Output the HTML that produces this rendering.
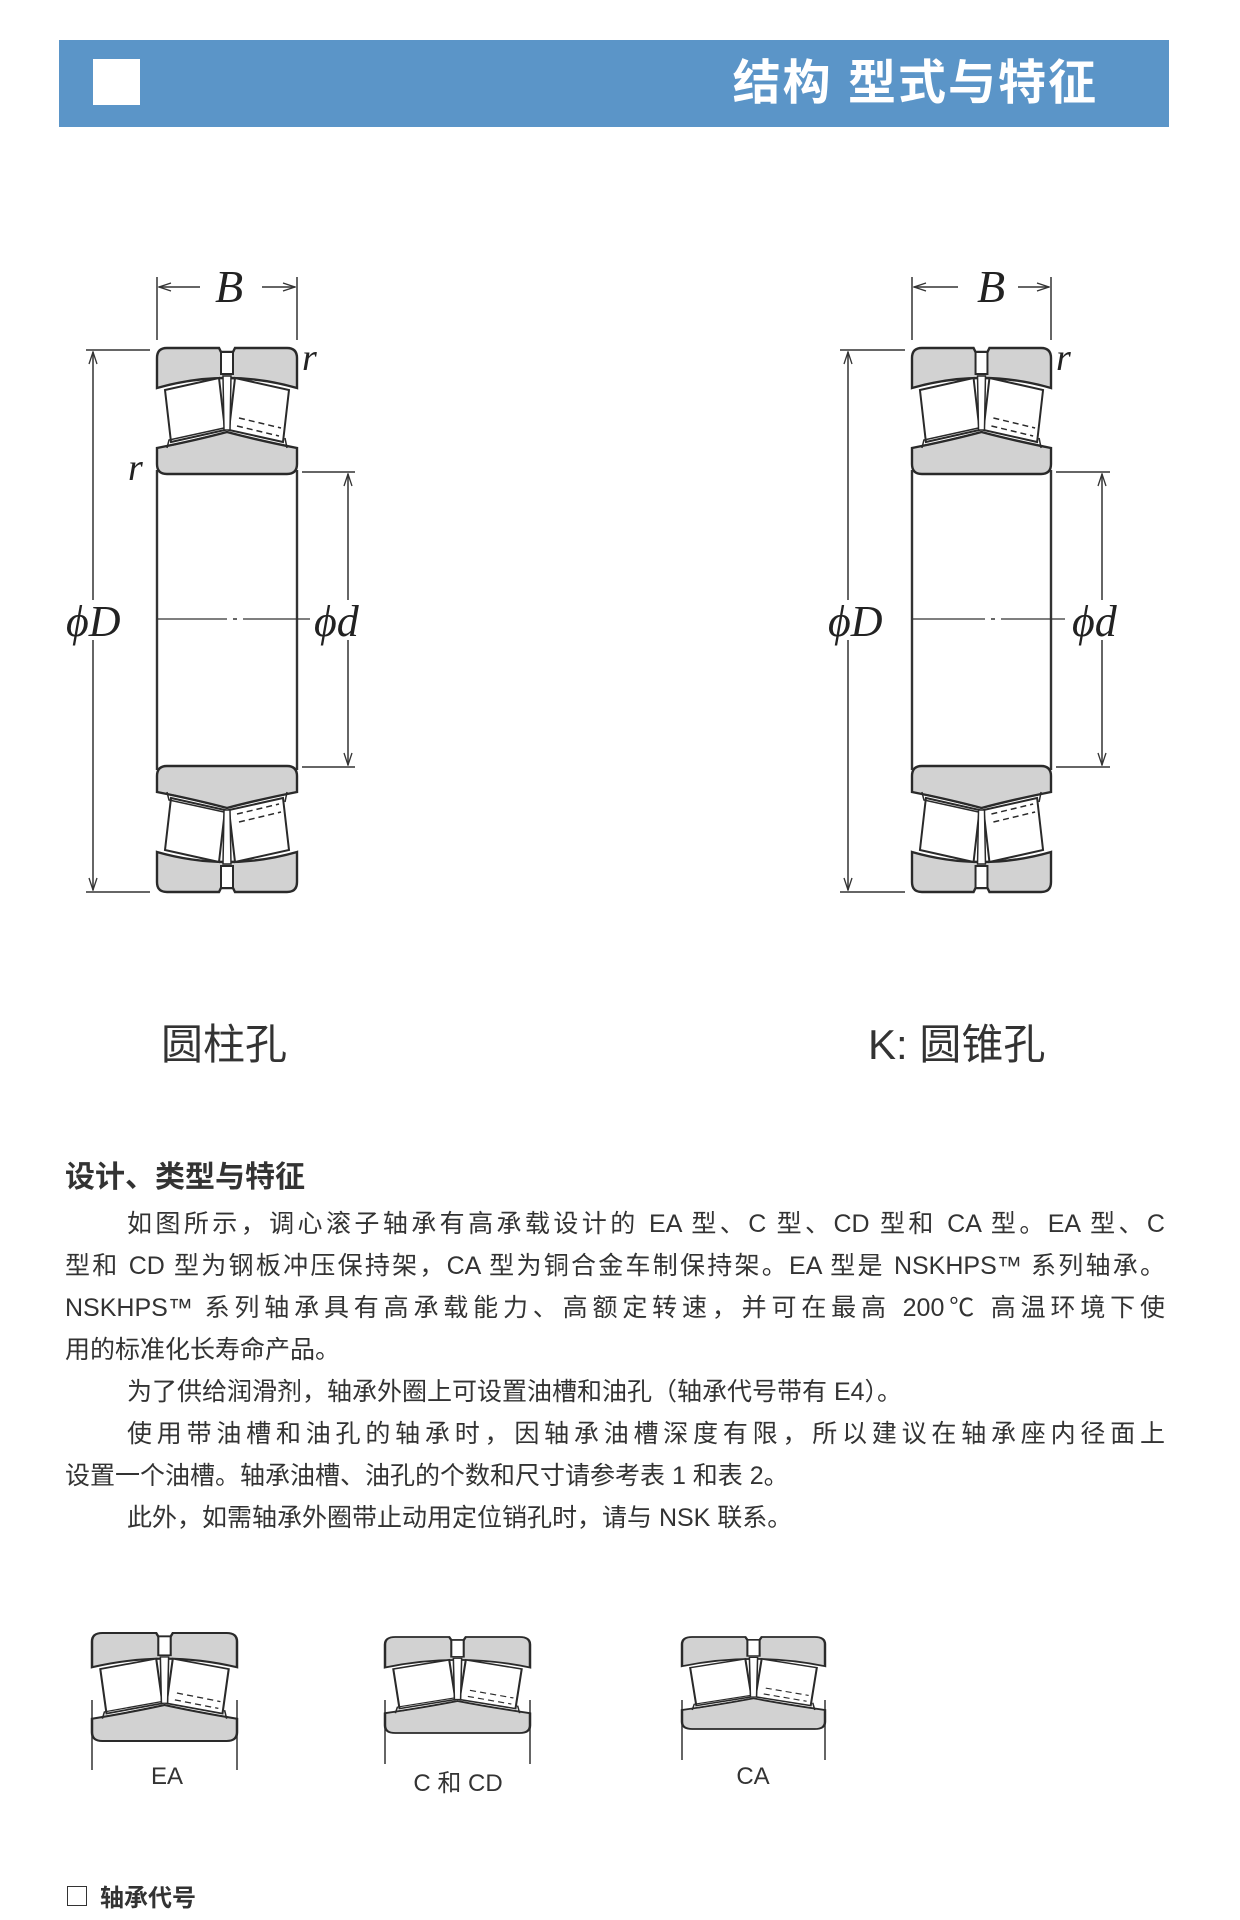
<!DOCTYPE html>
<html><head><meta charset="utf-8"><style>
body{margin:0;width:1240px;height:1920px;background:#fff;position:relative;overflow:hidden;font-family:"Liberation Sans","Noto Sans CJK SC",sans-serif;color:#333}
.hdr{position:absolute;left:59px;top:40px;width:1110px;height:87px;background:#5b95c8}
.sq{position:absolute;left:34px;top:19px;width:47px;height:46px;background:#fff}
.ttl{position:absolute;right:71px;top:16px;font-size:48px;font-weight:bold;color:#fff;letter-spacing:2px;line-height:56px}
.cap{position:absolute;font-size:42px;color:#333;line-height:50px}
.h2{position:absolute;left:65px;top:1152px;font-size:30px;font-weight:bold;color:#333}
.p{position:absolute;left:65px;width:1100px;font-size:25px;line-height:30px;color:#333;white-space:nowrap}
.j{text-align:justify;text-align-last:justify;white-space:normal}
.lab{position:absolute;font-size:24px;color:#333;transform:translateX(-50%)}
svg{position:absolute;left:0;top:0}
</style></head><body>
<div class="hdr"><div class="sq"></div><div class="ttl">结构 型式与特征</div></div>
<svg width="1240" height="1920" viewBox="0 0 1240 1920">
<defs>
<symbol id="half" viewBox="0 0 140 126" overflow="visible" preserveAspectRatio="none">
<path d="M0,10 Q0,0 10,0 L62,0 L64,4 L76,4 L78,0 L130,0 Q140,0 140,10 L140,40 Q70,20 0,40 Z" fill="#d2d2d2" stroke="#2a2a2a" stroke-width="2.4"/>
<rect x="64" y="4" width="12" height="22" fill="#fff" stroke="#2a2a2a" stroke-width="2"/>
<path d="M0,100 Q40,92 70,84 Q100,92 140,100 L140,116 Q140,126 130,126 L10,126 Q0,126 0,116 Z" fill="#d2d2d2" stroke="#2a2a2a" stroke-width="2.4"/>
<path d="M8,42 L62,30 L68,82 L14,94 Z" fill="#fff" stroke="#2a2a2a" stroke-width="2"/>
<path d="M78,30 L132,42 L126,94 L72,82 Z" fill="#fff" stroke="#2a2a2a" stroke-width="2"/>
<path d="M66,28 L74,28 L73,82 L67,82 Z" fill="#fff" stroke="#2a2a2a" stroke-width="1.5"/>
<path d="M67,80 L12,92 L10,100 M70,84 L16,97" fill="none" stroke="#2a2a2a" stroke-width="1.5"/>
<path d="M82,70 L124,80 M80,78 L122,88" fill="none" stroke="#2a2a2a" stroke-width="1.5" stroke-dasharray="6,4"/>
<path d="M128,90 L130,100" stroke="#2a2a2a" stroke-width="1.5"/>
</symbol>
<marker id="ar" viewBox="0 0 12 10" refX="12" refY="5" markerWidth="14" markerHeight="10" orient="auto" markerUnits="userSpaceOnUse"><path d="M0,1 L12,5 L0,9" fill="none" stroke="#333" stroke-width="1.3"/></marker>
</defs>
<g stroke="#333" stroke-width="1.5" fill="none">
<line x1="157" y1="470" x2="157" y2="770" stroke-width="2.4"/>
<line x1="297" y1="470" x2="297" y2="770" stroke-width="2.4"/>
<line x1="157" y1="277" x2="157" y2="340"/><line x1="297" y1="277" x2="297" y2="340"/>
<line x1="200" y1="287" x2="159" y2="287" marker-end="url(#ar)"/><line x1="262" y1="287" x2="295" y2="287" marker-end="url(#ar)"/>
<line x1="86" y1="350" x2="150" y2="350"/><line x1="86" y1="892" x2="150" y2="892"/>
<line x1="93" y1="600" x2="93" y2="352" marker-end="url(#ar)"/><line x1="93" y1="640" x2="93" y2="890" marker-end="url(#ar)"/>
<line x1="302" y1="472" x2="355" y2="472"/><line x1="302" y1="767" x2="355" y2="767"/>
<line x1="348" y1="600" x2="348" y2="474" marker-end="url(#ar)"/><line x1="348" y1="640" x2="348" y2="765" marker-end="url(#ar)"/>
<line x1="158" y1="619" x2="227" y2="619" stroke-width="1.2"/><line x1="233" y1="619" x2="237" y2="619"/><line x1="243" y1="619" x2="310" y2="619" stroke-width="1.2"/>
<line x1="912" y1="470" x2="912" y2="770" stroke-width="2.4"/>
<line x1="1051" y1="470" x2="1051" y2="770" stroke-width="2.4"/>
<line x1="912" y1="277" x2="912" y2="340"/><line x1="1051" y1="277" x2="1051" y2="340"/>
<line x1="958" y1="287" x2="914" y2="287" marker-end="url(#ar)"/><line x1="1018" y1="287" x2="1049" y2="287" marker-end="url(#ar)"/>
<line x1="840" y1="350" x2="905" y2="350"/><line x1="840" y1="892" x2="905" y2="892"/>
<line x1="848" y1="600" x2="848" y2="352" marker-end="url(#ar)"/><line x1="848" y1="640" x2="848" y2="890" marker-end="url(#ar)"/>
<line x1="1056" y1="472" x2="1110" y2="472"/><line x1="1056" y1="767" x2="1110" y2="767"/>
<line x1="1102" y1="600" x2="1102" y2="474" marker-end="url(#ar)"/><line x1="1102" y1="640" x2="1102" y2="765" marker-end="url(#ar)"/>
<line x1="913" y1="619" x2="985" y2="619" stroke-width="1.2"/><line x1="991" y1="619" x2="995" y2="619"/><line x1="1001" y1="619" x2="1065" y2="619" stroke-width="1.2"/>
<line x1="92" y1="1700" x2="92" y2="1770"/><line x1="237" y1="1700" x2="237" y2="1770"/>
<line x1="385" y1="1700" x2="385" y2="1764"/><line x1="530" y1="1700" x2="530" y2="1764"/>
<line x1="682" y1="1700" x2="682" y2="1760"/><line x1="825" y1="1700" x2="825" y2="1760"/>
</g>
<use href="#half" x="157" y="348" width="140" height="126"/>
<g transform="translate(0,1240) scale(1,-1)"><use href="#half" x="157" y="348" width="140" height="126"/></g>
<use href="#half" x="912" y="348" width="139" height="126"/>
<g transform="translate(0,1240) scale(1,-1)"><use href="#half" x="912" y="348" width="139" height="126"/></g>
<use href="#half" x="92" y="1633" width="145" height="108"/>
<use href="#half" x="385" y="1637" width="145" height="96"/>
<use href="#half" x="682" y="1637" width="143" height="92"/>
<g font-family="Liberation Serif,serif" font-style="italic" fill="#222">
<text x="215" y="302" font-size="46">B</text>
<text x="302" y="370" font-size="38">r</text>
<text x="128" y="480" font-size="38">r</text>
<text x="66" y="636" font-size="44">ϕD</text>
<text x="314" y="636" font-size="44">ϕd</text>
<text x="977" y="302" font-size="46">B</text>
<text x="1056" y="370" font-size="38">r</text>
<text x="828" y="636" font-size="44">ϕD</text>
<text x="1072" y="636" font-size="44">ϕd</text>
</g>
</svg>
<div class="cap" style="left:161px;top:1020px">圆柱孔</div>
<div class="cap" style="left:868px;top:1020px">K: 圆锥孔</div>
<div class="h2">设计、类型与特征</div>
<div class="p j" style="top:1209px;padding-left:62px;width:1038px">如图所示，调心滚子轴承有高承载设计的 EA 型、C 型、CD 型和 CA 型。EA 型、C</div>
<div class="p j" style="top:1251px">型和 CD 型为钢板冲压保持架，CA 型为铜合金车制保持架。EA 型是 NSKHPS™ 系列轴承。</div>
<div class="p j" style="top:1293px">NSKHPS™ 系列轴承具有高承载能力、高额定转速，并可在最高 200℃ 高温环境下使</div>
<div class="p" style="top:1335px">用的标准化长寿命产品。</div>
<div class="p" style="top:1377px;left:127px">为了供给润滑剂，轴承外圈上可设置油槽和油孔（轴承代号带有 E4）。</div>
<div class="p j" style="top:1419px;padding-left:62px;width:1038px">使用带油槽和油孔的轴承时，因轴承油槽深度有限，所以建议在轴承座内径面上</div>
<div class="p" style="top:1461px">设置一个油槽。轴承油槽、油孔的个数和尺寸请参考表 1 和表 2。</div>
<div class="p" style="top:1503px;left:127px">此外，如需轴承外圈带止动用定位销孔时，请与 NSK 联系。</div>
<div class="lab" style="left:167px;top:1763px">EA</div>
<div class="lab" style="left:458px;top:1763px">C 和 CD</div>
<div class="lab" style="left:753px;top:1763px">CA</div>
<div style="position:absolute;left:67px;top:1886px;width:18px;height:18px;border:1.5px solid #333"></div>
<div style="position:absolute;left:100px;top:1878px;font-size:24px;font-weight:bold">轴承代号</div>
</body></html>
